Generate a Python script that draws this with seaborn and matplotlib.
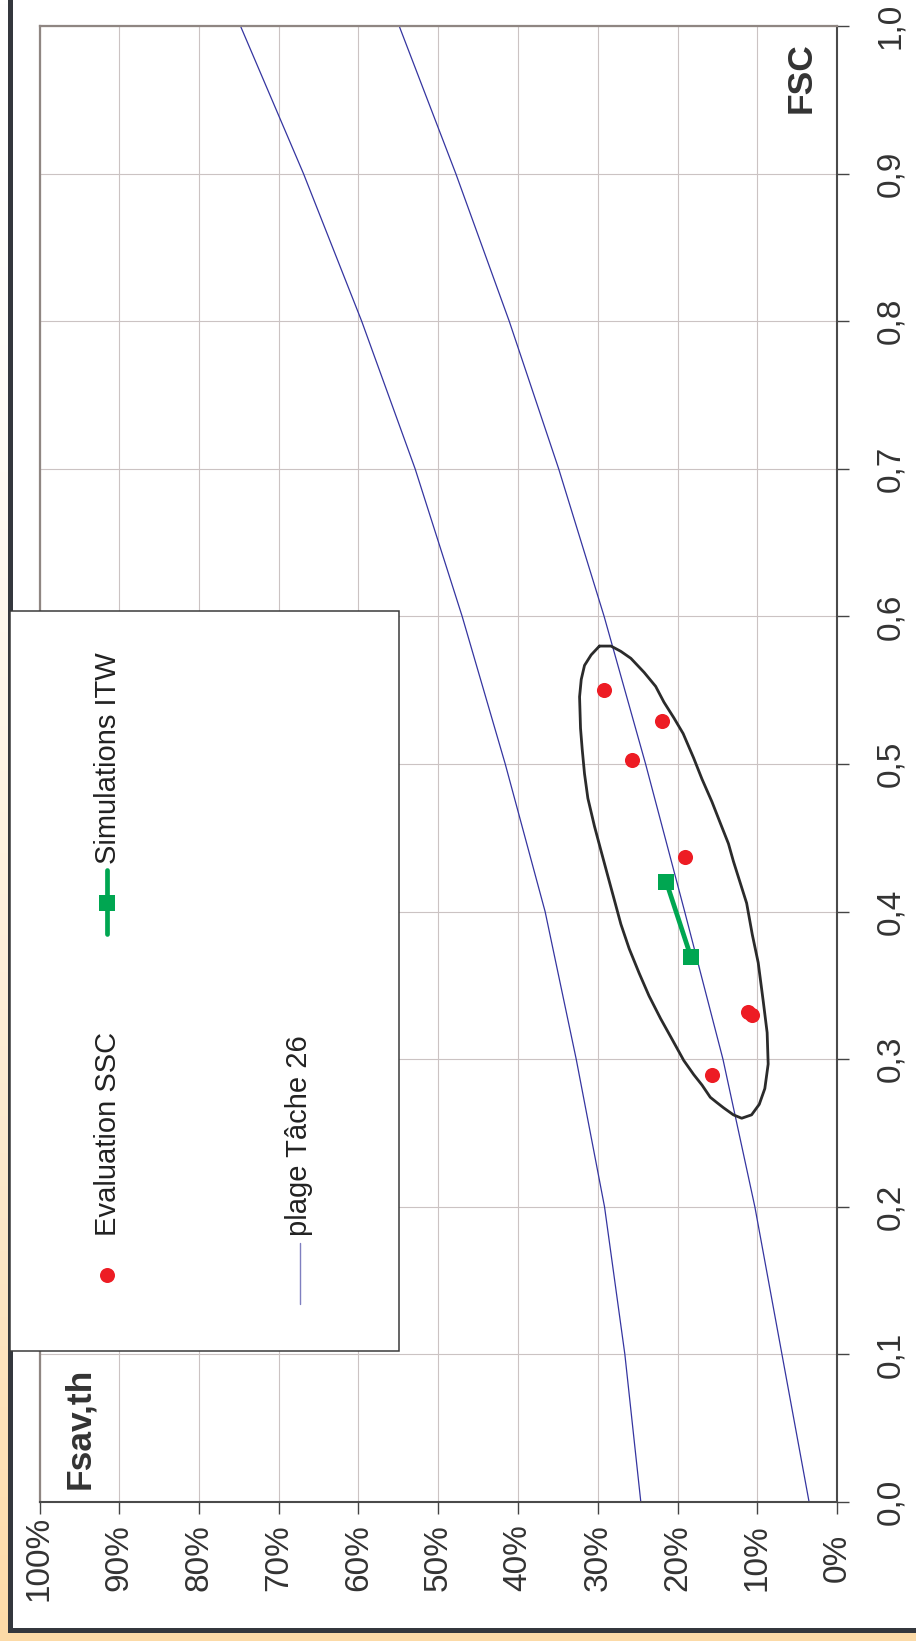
import numpy as np
import matplotlib
matplotlib.use("Agg")
import matplotlib.pyplot as plt
import seaborn as sns
from matplotlib.patches import Rectangle
from matplotlib.lines import Line2D

# ---- data -------------------------------------------------------------
fsc_grid = [0.0, 0.1, 0.2, 0.3, 0.4, 0.5, 0.6, 0.7, 0.8, 0.9, 1.0]
plage_haut = [24.6, 26.6, 29.15, 32.7, 36.6, 41.6, 47.0, 52.9, 59.6, 66.9, 74.8]
plage_bas = [3.5, 6.9, 10.3, 14.3, 19.1, 24.0, 29.2, 34.9, 41.1, 47.8, 54.9]

eval_fsav = [29.2, 22.0, 25.7, 19.1, 11.2, 10.6, 15.7]
eval_fsc = [0.550, 0.529, 0.503, 0.437, 0.332, 0.330, 0.289]

simu_fsav = [21.4, 18.3]
simu_fsc = [0.420, 0.369]

enveloppe_fsav = [29.79, 28.34, 27.10, 25.85, 24.19, 22.74, 21.70, 20.46, 19.29, 17.97,
                  16.93, 15.68, 14.65, 13.61, 12.99, 12.16, 11.33, 10.62, 9.88, 9.25,
                  8.76, 8.63, 9.05, 9.75, 10.71, 11.95, 12.99, 14.23, 15.06, 15.89,
                  16.93, 17.97, 19.21, 20.66, 22.12, 23.57, 24.81, 26.06, 27.10, 27.93,
                  28.76, 29.59, 30.41, 31.24, 31.66, 31.95, 32.16, 32.28, 32.07, 31.66,
                  30.83, 29.79]
enveloppe_fsc = [0.5799, 0.5799, 0.5763, 0.5716, 0.5621, 0.5526, 0.5419, 0.5313, 0.5206, 0.5040,
                 0.4898, 0.4744, 0.4602, 0.4460, 0.4341, 0.4199, 0.4057, 0.3844, 0.3654, 0.3393,
                 0.3180, 0.2967, 0.2801, 0.2694, 0.2623, 0.2600, 0.2623, 0.2671, 0.2706, 0.2742,
                 0.2825, 0.2896, 0.2991, 0.3133, 0.3275, 0.3429, 0.3583, 0.3749, 0.3915, 0.4081,
                 0.4246, 0.4412, 0.4578, 0.4768, 0.4934, 0.5100, 0.5242, 0.5455, 0.5573, 0.5668,
                 0.5739, 0.5799]

x_ticks = list(range(0, 101, 10))
x_labels = [f"{v}%" for v in x_ticks]
y_ticks = [round(v, 1) for v in np.arange(0, 1.01, 0.1)]
y_labels = [f"{v:.1f}".replace(".", ",") for v in y_ticks]

legend_labels = ["Evaluation SSC", "Simulations ITW", "plage Tâche 26"]

# ---- colours ----------------------------------------------------------
RED = "#ED1C24"
GREEN = "#00A651"
BLUE = "#3535a0"
TEXT = "#333333"

sns.set_theme(style="white")
plt.rcParams["font.family"] = ["Liberation Sans", "DejaVu Sans"]

W, H = 916, 1641
fig = plt.figure(figsize=(W / 100, H / 100), dpi=100)


def fx(px):
    return px / W


def fy(py):
    return 1 - py / H


# warm gradient backdrop
bg = fig.add_axes([0, 0, 1, 1], zorder=-20)
t = np.linspace(0, 1, 400)[:, None, None] ** 1.6
white = np.array([1.0, 1.0, 1.0])
peach = np.array([0.992, 0.855, 0.655])
grad = white * (1 - t) + peach * t
grad = np.repeat(grad, 2, axis=1)
bg.imshow(grad, aspect="auto", extent=[0, 1, 0, 1], origin="upper")
bg.axis("off")

# white panel with a dark frame
fig.add_artist(Rectangle((fx(10), fy(1630)), fx(980) - fx(10), fy(-60) - fy(1630),
                         transform=fig.transFigure, facecolor="white",
                         edgecolor="#34373d", lw=3.6, zorder=-10))

# ---- main axes --------------------------------------------------------
ax = fig.add_axes([fx(39.5), fy(1502), fx(837) - fx(39.5), fy(26) - fy(1502)])
ax.set_facecolor("white")
ax.set_axisbelow(True)
ax.grid(True, color="#cbc3c3", lw=0.8)

sns.lineplot(x=plage_haut, y=fsc_grid, ax=ax, color=BLUE, lw=0.9,
             sort=False, estimator=None, zorder=2)
sns.lineplot(x=plage_bas, y=fsc_grid, ax=ax, color=BLUE, lw=0.9,
             sort=False, estimator=None, zorder=2)
sns.lineplot(x=enveloppe_fsav, y=enveloppe_fsc, ax=ax, color="#2b2b2b", lw=2.0,
             sort=False, estimator=None, zorder=3)
sns.lineplot(x=simu_fsav, y=simu_fsc, ax=ax, color=GREEN, lw=3.4, marker="s",
             markersize=11, markeredgewidth=0, sort=False, estimator=None, zorder=4)
sns.scatterplot(x=eval_fsav, y=eval_fsc, ax=ax, color=RED, s=118, linewidth=0, zorder=5)

ax.set_xlim(100, 0)
ax.set_ylim(0, 1)
ax.set_xlabel("")
ax.set_ylabel("")
ax.set_xticks(x_ticks)
ax.set_xticklabels(x_labels)
ax.yaxis.tick_right()
ax.set_yticks(y_ticks)
ax.set_yticklabels(y_labels)

ax.tick_params(axis="x", direction="out", length=8.6, width=1.0, color="#444444",
               bottom=True, top=False, labelbottom=True, labelrotation=90,
               labelsize=24, labelcolor=TEXT, pad=31.7)
ax.tick_params(axis="y", direction="out", length=8.6, width=1.0, color="#444444",
               left=False, right=True, labelleft=False, labelright=True,
               labelrotation=90, labelsize=24, labelcolor=TEXT, pad=30)
for lab in ax.get_xticklabels():
    lab.set_ha("center")
    lab.set_va("center")
for lab in ax.get_yticklabels():
    lab.set_ha("center")
    lab.set_va("center")

for side in ("top", "left"):
    ax.spines[side].set_color("#8f8682")
    ax.spines[side].set_linewidth(1.6)
for side in ("bottom", "right"):
    ax.spines[side].set_color("#4a4a4a")
    ax.spines[side].set_linewidth(1.5)

ax.text(4.5, 0.941, "FSC", rotation=90, ha="center", va="bottom",
        fontsize=25.5, fontweight="bold", color=TEXT)
ax.text(95.0, 0.009, "Fsav,th", rotation=90, ha="center", va="bottom",
        fontsize=25.5, fontweight="bold", color=TEXT)

# ---- legend box -------------------------------------------------------
fig.add_artist(Rectangle((fx(10), fy(1351)), fx(399) - fx(10), fy(611) - fy(1351),
                         transform=fig.transFigure, facecolor="white",
                         edgecolor="#3a3a3a", lw=1.1, zorder=5))
fig.add_artist(Line2D([fx(107)], [fy(1275)], marker="o", ms=10.8, color=RED,
                      mew=0, transform=fig.transFigure, zorder=6))
fig.add_artist(Line2D([fx(107), fx(107)], [fy(934), fy(870)], color=GREEN, lw=3.4,
                      solid_capstyle="round", transform=fig.transFigure, zorder=6))
fig.add_artist(Line2D([fx(107)], [fy(903)], marker="s", ms=11, color=GREEN,
                      mew=0, transform=fig.transFigure, zorder=6))
fig.add_artist(Line2D([fx(300), fx(300)], [fy(1304), fy(1243)], color="#7f7fc0",
                      lw=1.0, transform=fig.transFigure, zorder=6))
fig.text(fx(107.5), fy(1236), legend_labels[0], rotation=90, ha="center", va="bottom",
         fontsize=21, color="#222222", zorder=7)
fig.text(fx(107.5), fy(864), legend_labels[1], rotation=90, ha="center", va="bottom",
         fontsize=21, color="#222222", zorder=7)
fig.text(fx(299), fy(1236), legend_labels[2], rotation=90, ha="center", va="bottom",
         fontsize=21, color="#222222", zorder=7)

fig.savefig("out.png", dpi=100)
